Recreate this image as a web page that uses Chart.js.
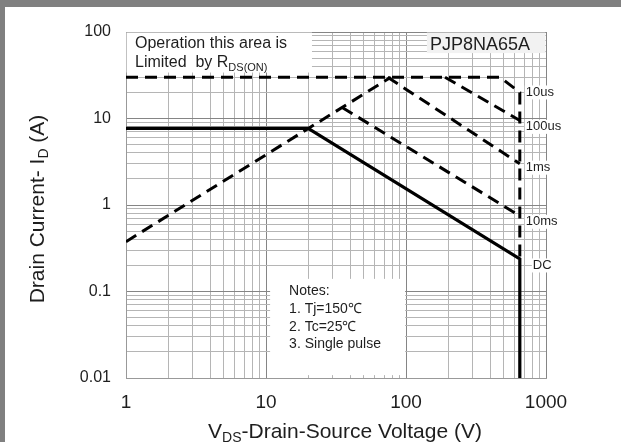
<!DOCTYPE html>
<html>
<head>
<meta charset="utf-8">
<script src="https://cdn.jsdelivr.net/npm/chart.js@4.4.1/dist/chart.umd.min.js"></script>
<style>
  html, body { margin: 0; padding: 0; background: #fff; }
  #wrap { position: relative; width: 621px; height: 442px; overflow: hidden; }
  #soa { position: absolute; left: 0; top: 0; }
  .frameTop { position: absolute; left: 0; top: 0; width: 621px; height: 7px; background: #808080; }
  .frameLeft { position: absolute; left: 0; top: 0; width: 5px; height: 442px; background: #808080; }
</style>
</head>
<body>
<div id="wrap">
  <canvas id="soa" width="621" height="442"></canvas>
  <div class="frameTop"></div>
  <div class="frameLeft"></div>
</div>
<script>
// axis decades (tick labels)
const xTickLabels = [1, 10, 100, 1000];
const yTickLabels = [0.01, 0.1, 1, 10, 100];

// Rds(on) limit line
const rdsV = [1, 78];
const rdsI = [0.377, 30];
// 10us pulse (with 30A limit and BVdss edge)
const us10V = [1, 470, 650, 650];
const us10I = [30, 30, 20, 0.24];
// 100us
const us100V = [190, 650];
const us100I = [30, 9.5];
// 1ms
const ms1V = [74, 650];
const ms1I = [30, 3.0];
// 10ms
const ms10V = [35, 650];
const ms10I = [13.4, 0.75];
// DC
const dcV = [1, 20, 650, 650];
const dcI = [7.7, 7.7, 0.238, 0.01];

// curve labels at the right edge
const curveNames = ['10us', '100us', '1ms', '10ms', 'DC'];
const curveLabelI = [20, 8, 2.7, 0.64, 0.2];

const notes = ['Notes:', '1. Tj=150\u2103', '2. Tc=25\u2103', '3. Single pulse'];

const FONT = '"Liberation Sans", Arial, sans-serif';
const TXT = '#1e1e1e';

function pts(xs, ys) { return xs.map((x, i) => ({ x: x, y: ys[i] })); }
function mkTicks(dec) {
  const out = [];
  for (let i = 0; i < dec.length - 1; i++) {
    for (let k = 1; k < 10; k++) out.push(k * dec[i]);
  }
  out.push(dec[dec.length - 1]);
  return out.map(v => ({ value: v }));
}

// draw text made of pieces [text, size, dy]
function rich(ctx, parts, x, y, measureOnly) {
  let w = 0;
  parts.forEach(p => {
    ctx.font = p[1] + 'px ' + FONT;
    if (!measureOnly) ctx.fillText(p[0], x + w, y + (p[2] || 0));
    w += ctx.measureText(p[0]).width;
  });
  return w;
}

const dashed = { borderColor: '#000', borderWidth: 3, borderDash: [12, 7], pointRadius: 0, tension: 0, fill: false };

const boxesPlugin = {
  id: 'boxes',
  beforeDatasetsDraw(chart) {
    const ctx = chart.ctx, xs = chart.scales.x, ys = chart.scales.y;
    const rect = (x0, x1, y0, y1, col) => {
      const l = xs.getPixelForValue(x0), r = xs.getPixelForValue(x1);
      const t = ys.getPixelForValue(y1), b = ys.getPixelForValue(y0);
      ctx.fillStyle = col;
      ctx.fillRect(l, t, r - l, b - t);
    };
    ctx.save();
    rect(1.01, 21.3, 34, 98.5, '#fff');
    rect(141, 990, 57, 98.5, '#f2f2f2');
    rect(10.7, 98.5, 0.0108, 0.14, '#fff');
    ctx.fillStyle = TXT;
    ctx.textBaseline = 'alphabetic';
    ctx.textAlign = 'left';
    rich(ctx, [['Operation this area is', 16]], 135, 48);
    rich(ctx, [['Limited  by R', 16], ['DS(ON)', 11, 4]], 135, 67);
    rich(ctx, [['PJP8NA65A', 18]], 430, 50);
    const nx = xs.getPixelForValue(10.7) + 19;
    [295, 313, 331, 348].forEach((y, i) => rich(ctx, [[notes[i], 14]], nx, y));
    ctx.restore();
  }
};

const labelsPlugin = {
  id: 'labels',
  afterDatasetsDraw(chart) {
    const ctx = chart.ctx, xs = chart.scales.x, ys = chart.scales.y;
    const x0 = xs.getPixelForValue(650);
    ctx.save();
    ctx.font = '13px ' + FONT;
    ctx.textBaseline = 'middle';
    curveNames.forEach((name, i) => {
      const y = ys.getPixelForValue(curveLabelI[i]);
      const x = name === 'DC' ? x0 + 13 : x0 + 6;
      const w = ctx.measureText(name).width;
      ctx.fillStyle = '#fff';
      ctx.fillRect(x - 1, y - 7, w + 2, 14);
      ctx.fillStyle = TXT;
      ctx.fillText(name, x, y);
    });
    ctx.restore();
  },
  afterDraw(chart) {
    const ctx = chart.ctx;
    ctx.save();
    ctx.fillStyle = TXT;
    ctx.textBaseline = 'alphabetic';
    // x title
    const xp = [['V', 21], ['DS', 14, 4], ['-Drain-Source Voltage (V)', 21]];
    const xw = rich(ctx, xp, 0, 0, true);
    rich(ctx, xp, 345 - xw / 2, 438);
    // y title
    const yp = [['Drain Current- I', 21], ['D', 14, 4], [' (A)', 21]];
    const yw = rich(ctx, yp, 0, 0, true);
    ctx.translate(44, 209 + yw / 2);
    ctx.rotate(-Math.PI / 2);
    rich(ctx, yp, 0, 0);
    ctx.restore();
  }
};

const gridCol = arr => c => (c.tick && arr.includes(c.tick.value)) ? '#858585' : '#b5b5b5';

new Chart(document.getElementById('soa'), {
  type: 'line',
  data: {
    datasets: [
      Object.assign({ label: 'Rds(on)', data: pts(rdsV, rdsI) }, dashed),
      Object.assign({ label: '10us', data: pts(us10V, us10I) }, dashed),
      Object.assign({ label: '100us', data: pts(us100V, us100I) }, dashed),
      Object.assign({ label: '1ms', data: pts(ms1V, ms1I) }, dashed),
      Object.assign({ label: '10ms', data: pts(ms10V, ms10I) }, dashed),
      { label: 'DC', data: pts(dcV, dcI), borderColor: '#000', borderWidth: 3.2, pointRadius: 0, tension: 0, fill: false }
    ]
  },
  options: {
    responsive: false,
    devicePixelRatio: 1,
    animation: false,
    layout: { padding: { top: 32, right: 75, bottom: 0, left: 0 } },
    plugins: { legend: { display: false }, tooltip: { enabled: false } },
    scales: {
      x: {
        type: 'logarithmic', min: 1, max: 1000,
        afterBuildTicks: s => { s.ticks = mkTicks(xTickLabels); },
        afterFit: s => { s.height = 64; },
        grid: { color: gridCol(xTickLabels), lineWidth: 1, drawTicks: false },
        border: { display: true, color: '#999' },
        ticks: {
          autoSkip: false, maxRotation: 0, padding: 13, color: TXT,
          font: { family: FONT, size: 19 },
          callback: v => xTickLabels.includes(v) ? String(v) : ''
        }
      },
      y: {
        type: 'logarithmic', min: 0.01, max: 100,
        afterBuildTicks: s => { s.ticks = mkTicks(yTickLabels); },
        afterFit: s => { s.width = 126; },
        grid: { color: gridCol(yTickLabels), lineWidth: 1, drawTicks: false },
        border: { display: true, color: '#999' },
        ticks: {
          autoSkip: false, padding: 15, color: TXT,
          font: { family: FONT, size: 16 },
          callback: v => yTickLabels.includes(v) ? String(v) : ''
        }
      }
    }
  },
  plugins: [boxesPlugin, labelsPlugin]
});
</script>
</body>
</html>
